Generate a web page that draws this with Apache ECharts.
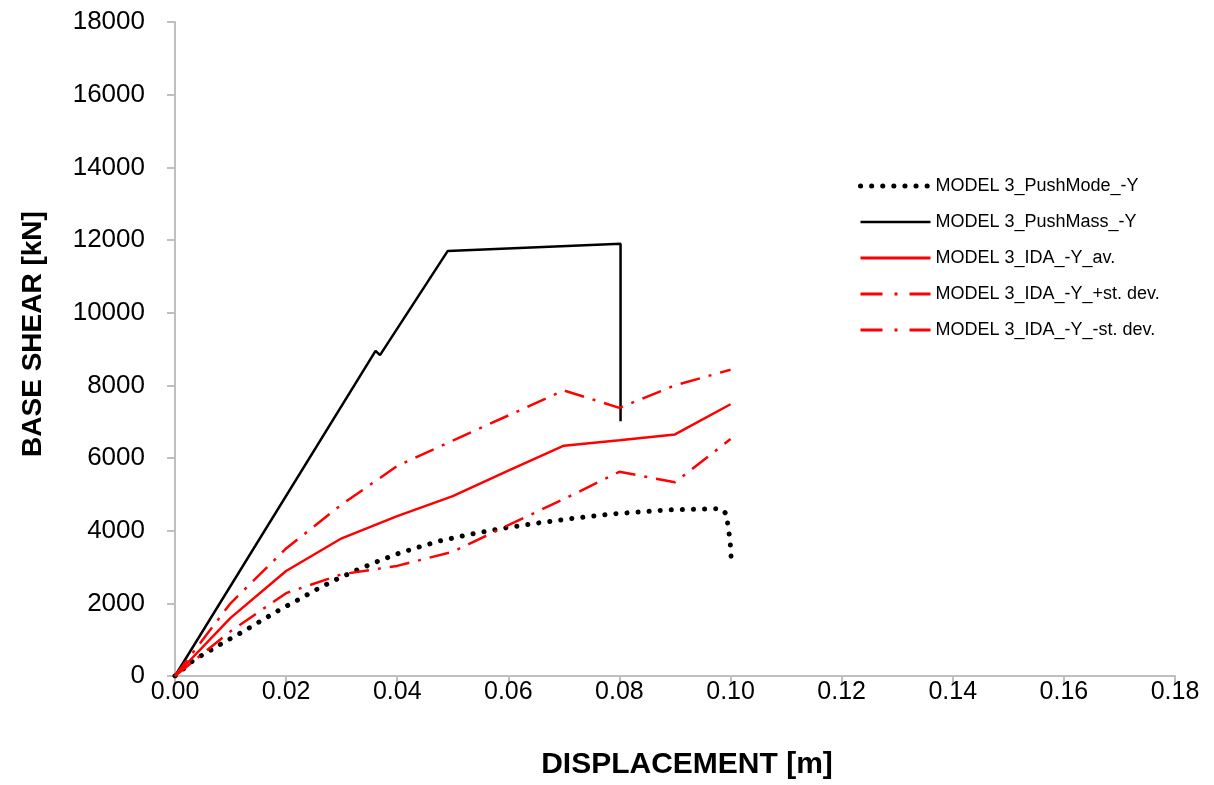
<!DOCTYPE html>
<html>
<head>
<meta charset="utf-8">
<script src="https://cdn.jsdelivr.net/npm/echarts@6/dist/echarts.min.js"></script>
<style>
    html, body {margin: 0; padding: 0; background: #fff;}
    #main {width: 1214px; height: 785px;}
</style>
</head>
<body>
<div id="main"></div>
<script>
    // pushover (mode) curve, [displacement m, base shear kN]
    var pushModeData = [[0, 0], [0.0033, 430], [0.0085, 900], [0.012, 1200], [0.0153, 1500], [0.0188, 1820],
        [0.0222, 2100], [0.0257, 2400], [0.0292, 2670], [0.0328, 2920], [0.0364, 3150], [0.04, 3360],
        [0.0438, 3545], [0.0477, 3718], [0.0534, 3910], [0.0591, 4067], [0.065, 4204], [0.0708, 4323],
        [0.0787, 4460], [0.0885, 4570], [0.0963, 4597], [0.0983, 4608], [0.0993, 4452], [0.0995, 4158],
        [0.0998, 3855], [0.1, 3553], [0.1001, 3250]];
    // pushover (mass) curve
    var pushMassData = [[0, 0], [0.0361, 8950], [0.0369, 8830], [0.0491, 11700], [0.0802, 11900], [0.0802, 7010]];
    // IDA
    var idaX = [0, 0.01, 0.02, 0.03, 0.04, 0.05, 0.06, 0.07, 0.08, 0.09, 0.1];
    var idaAv = [0, 1600, 2890, 3790, 4400, 4950, 5650, 6340, 6490, 6650, 7480];
    var idaPlus = [0, 2000, 3510, 4720, 5780, 6480, 7170, 7860, 7380, 8000, 8430];
    var idaMinus = [0, 1230, 2280, 2800, 3030, 3420, 4150, 4870, 5620, 5330, 6520];

    var seriesNames = ['MODEL 3_PushMode_-Y', 'MODEL 3_PushMass_-Y', 'MODEL 3_IDA_-Y_av.',
        'MODEL 3_IDA_-Y_+st. dev.', 'MODEL 3_IDA_-Y_-st. dev.'];

    function pair(xs, ys) {
        var out = [];
        for (var i = 0; i < xs.length; i++) {
            out.push([xs[i], ys[i]]);
        }
        return out;
    }

    var font = 'Liberation Sans';
    var dashDot = [20, 9, 3, 9];
    var dotted = [0.1, 11];

    var option = {
        animation: false,
        backgroundColor: '#fff',
        grid: {left: 175, right: 39, top: 22, bottom: 107},
        legend: {
            orient: 'vertical',
            left: 853,
            top: 172,
            itemWidth: 70,
            itemHeight: 14,
            itemGap: 18,
            itemStyle: {opacity: 0},
            textStyle: {fontFamily: font, fontSize: 18, color: '#000', padding: [0, 0, 0, 0]},
            data: [
                {name: seriesNames[0], lineStyle: {width: 5, type: dotted, cap: 'round'}},
                {name: seriesNames[1], lineStyle: {width: 2.5}},
                {name: seriesNames[2], lineStyle: {width: 3}},
                {name: seriesNames[3], lineStyle: {width: 3, type: [22, 12, 3, 12]}},
                {name: seriesNames[4], lineStyle: {width: 3, type: [22, 12, 3, 12]}}
            ]
        },
        xAxis: {
            type: 'value',
            min: 0,
            max: 0.18,
            interval: 0.02,
            name: 'DISPLACEMENT [m]',
            nameLocation: 'middle',
            nameGap: 74,
            nameTextStyle: {fontFamily: font, fontSize: 30, fontWeight: 'bold', color: '#000', padding: [0, 0, 0, 24]},
            axisLine: {lineStyle: {color: '#bfbfbf', width: 2}},
            axisTick: {show: true, length: 8, lineStyle: {color: '#bfbfbf', width: 2}},
            axisLabel: {
                margin: 4,
                fontFamily: font,
                fontSize: 25,
                color: '#000',
                formatter: function (v) {
                    return v.toFixed(2);
                }
            },
            splitLine: {show: false}
        },
        yAxis: {
            type: 'value',
            min: 0,
            max: 18000,
            interval: 2000,
            name: 'BASE SHEAR [kN]',
            nameLocation: 'middle',
            nameGap: 128,
            nameTextStyle: {fontFamily: font, fontSize: 28, fontWeight: 'bold', color: '#000', padding: [0, 0, 0, 30]},
            axisLine: {show: true, lineStyle: {color: '#bfbfbf', width: 2}},
            axisTick: {show: true, length: 8, lineStyle: {color: '#bfbfbf', width: 2}},
            axisLabel: {
                margin: 30,
                fontFamily: font,
                fontSize: 26,
                color: '#000',
                formatter: function (v) {
                    return String(v);
                }
            },
            splitLine: {show: false}
        },
        series: [
            {
                name: seriesNames[0], type: 'line', symbol: 'none', data: pushModeData,
                itemStyle: {color: '#000'},
                lineStyle: {color: '#000', width: 5, type: dotted, cap: 'round'}
            },
            {
                name: seriesNames[1], type: 'line', symbol: 'none', data: pushMassData,
                itemStyle: {color: '#000'},
                lineStyle: {color: '#000', width: 2.5}
            },
            {
                name: seriesNames[2], type: 'line', symbol: 'none', data: pair(idaX, idaAv),
                itemStyle: {color: '#ff0000'},
                lineStyle: {color: '#ff0000', width: 2.5}
            },
            {
                name: seriesNames[3], type: 'line', symbol: 'none', data: pair(idaX, idaPlus),
                itemStyle: {color: '#ff0000'},
                lineStyle: {color: '#ff0000', width: 2.5, type: dashDot}
            },
            {
                name: seriesNames[4], type: 'line', symbol: 'none', data: pair(idaX, idaMinus),
                itemStyle: {color: '#ff0000'},
                lineStyle: {color: '#ff0000', width: 2.5, type: dashDot}
            }
        ]
    };

    var myChart = echarts.init(document.getElementById('main'));
    myChart.setOption(option);
</script>
</body>
</html>
